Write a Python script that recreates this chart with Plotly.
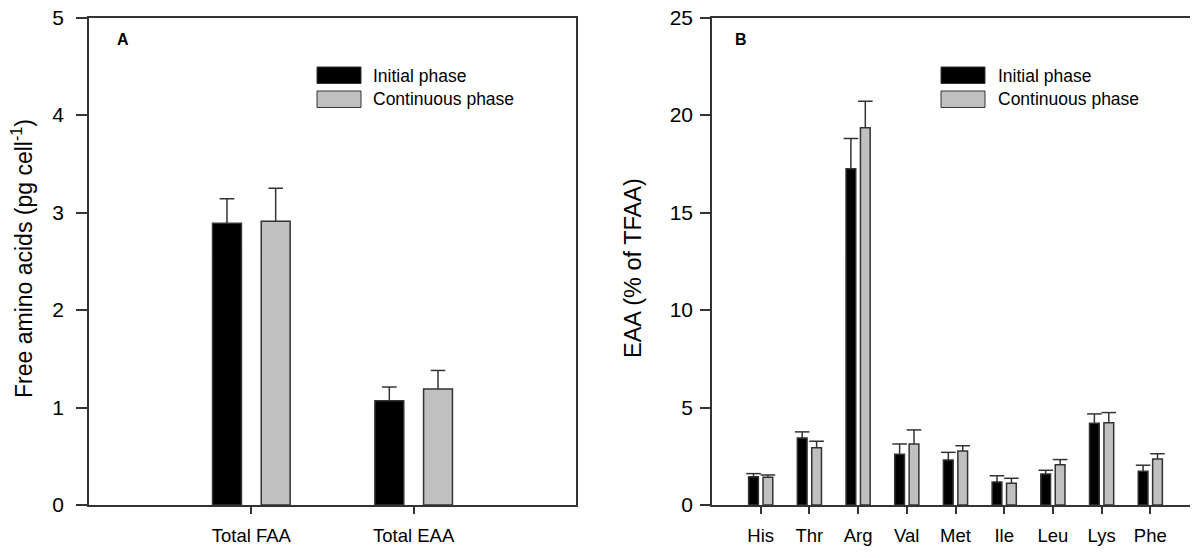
import plotly.graph_objects as go

# ---------------- data ----------------
cats_a = ["Total FAA", "Total EAA"]
init_a = [2.89, 1.07]
init_a_err = [0.25, 0.14]
cont_a = [2.91, 1.19]
cont_a_err = [0.34, 0.19]

cats_b = ["His", "Thr", "Arg", "Val", "Met", "Ile", "Leu", "Lys", "Phe"]
init_b = [1.45, 3.44, 17.25, 2.60, 2.31, 1.18, 1.59, 4.19, 1.73]
init_b_err = [0.16, 0.31, 1.55, 0.53, 0.39, 0.32, 0.19, 0.48, 0.31]
cont_b = [1.42, 2.94, 19.34, 3.13, 2.77, 1.11, 2.07, 4.22, 2.36]
cont_b_err = [0.12, 0.33, 1.36, 0.72, 0.27, 0.26, 0.26, 0.52, 0.27]

series_names = ["Initial phase", "Continuous phase"]
yticks_a = [0, 1, 2, 3, 4, 5]
yticks_b = [0, 5, 10, 15, 20, 25]

# ---------------- style ----------------
W, H = 1198, 558
OFF = 8  # page body margin
FONT = "Liberation Sans, Arial, sans-serif"
BLACK = "#000000"
GRAY = "#c0c0c0"
EDGE = "#333333"
AX = "#333333"

def px_x(p):
    return (p - OFF) / W

def px_y(p):
    return 1 - (p - OFF) / H

fig = go.Figure()


def add_panel(cats, vals1, err1, vals2, err2, xa, ya, off, bw, capw):
    n = len(cats)
    for vals, errs, col, sign in ((vals1, err1, BLACK, -1), (vals2, err2, GRAY, 1)):
        xs = [i + sign * off for i in range(n)]
        fig.add_trace(go.Bar(
            x=xs, y=vals, width=bw, marker=dict(color=col, line=dict(color=EDGE, width=1.5)),
            xaxis=xa, yaxis=ya, showlegend=False, hoverinfo="skip"))
        ex, ey = [], []
        for x, v, e in zip(xs, vals, errs):
            ex += [x, x, None, x - capw, x + capw, None]
            ey += [v, v + e, None, v + e, v + e, None]
        fig.add_trace(go.Scatter(
            x=ex, y=ey, mode="lines", line=dict(color=EDGE, width=1.5),
            xaxis=xa, yaxis=ya, showlegend=False, hoverinfo="skip"))


add_panel(cats_a, init_a, init_a_err, cont_a, cont_a_err, "x", "y", 0.15, 0.178, 0.045)
add_panel(cats_b, init_b, init_b_err, cont_b, cont_b_err, "x2", "y2", 0.148, 0.2, 0.15)

ydom = [px_y(505), px_y(17.5)]
axis_common = dict(showgrid=False, zeroline=False, showline=True, linecolor=AX, linewidth=1.5,
                   ticks="outside", tickcolor=AX, tickwidth=1.5, automargin=False,
                   ticklabeloverflow="allow",
                   tickfont=dict(family=FONT, size=21, color="black"))
xfont = dict(family=FONT, size=18.5, color="black")

fig.update_layout(
    template="none",
    width=W, height=H, margin=dict(l=0, r=0, t=0, b=0, pad=0), autosize=False,
    plot_bgcolor="white", paper_bgcolor="white", barmode="overlay", showlegend=False,
    xaxis=dict(axis_common, domain=[px_x(89), px_x(576)], range=[-1, 2],
               tickvals=list(range(len(cats_a))), ticktext=cats_a, ticklen=7,
               mirror=True, anchor="y", ticklabelstandoff=6, tickfont=xfont),
    yaxis=dict(axis_common, domain=ydom, range=[0, 5], tickvals=yticks_a, ticklen=11,
               mirror=True, anchor="x", ticklabelstandoff=8),
    xaxis2=dict(axis_common, domain=[px_x(712), px_x(1199)], range=[-1, 9],
                tickvals=list(range(len(cats_b))), ticktext=cats_b, ticklen=7,
                mirror=True, anchor="y2", ticklabelstandoff=6, tickfont=xfont),
    yaxis2=dict(axis_common, domain=ydom, range=[0, 25], tickvals=yticks_b, ticklen=10,
                mirror=True, anchor="x2", ticklabelstandoff=3),
)

annotations = [
    dict(text="Free amino acids (pg cell<sup>-1</sup>)", x=px_x(22), y=px_y(259), textangle=-90,
         font=dict(family=FONT, size=23, color="black")),
    dict(text="EAA (% of TFAA)", x=px_x(633), y=px_y(268), textangle=-90,
         font=dict(family=FONT, size=23.5, color="black")),
    dict(text="<b>A</b>", x=px_x(123), y=px_y(40), font=dict(family=FONT, size=16, color="black")),
    dict(text="<b>B</b>", x=px_x(741), y=px_y(40), font=dict(family=FONT, size=16, color="black")),
]
shapes = []
# legends
for bx, tx in ((317, 371), (941, 996)):
    for k, (nm, col) in enumerate(zip(series_names, (BLACK, GRAY))):
        y0 = 67 + k * 24
        shapes.append(dict(type="rect", xref="paper", yref="paper",
                           x0=px_x(bx), x1=px_x(bx + 44), y0=px_y(y0), y1=px_y(y0 + 16.5),
                           fillcolor=col, line=dict(color=EDGE, width=1)))
        annotations.append(dict(text=nm, x=px_x(tx), y=px_y(y0 + 8.5), xanchor="left",
                                font=dict(family=FONT, size=17.5, color="black")))

for a in annotations:
    a.update(xref="paper", yref="paper", showarrow=False)
    a.setdefault("xanchor", "center")
    a.setdefault("yanchor", "middle")

fig.update_layout(annotations=annotations, shapes=shapes)
fig.write_html("out.html")
